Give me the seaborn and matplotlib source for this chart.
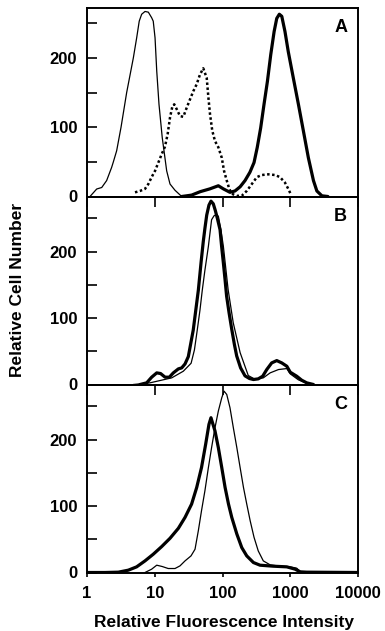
import matplotlib
matplotlib.use("Agg")
import matplotlib.pyplot as plt
import seaborn as sns

# Panel A: control (thin), dotted, stained (thick)
a_ctrl_x = [1.107, 1.39, 1.65, 1.95, 2.31, 2.45, 2.74, 3.18, 3.85, 4.83, 5.41, 5.9, 6.41, 7.18,
            8.04, 9.0, 9.5, 10.1, 10.7, 11.55, 12.9, 15.0, 16.8, 19.9, 25]
a_ctrl_y = [0, 10.8, 13, 23, 42, 50, 66, 100, 150, 200, 229, 253, 263, 267,
            266, 258, 253, 229, 181, 133, 85, 37, 18, 9, 0]

a_dot_x = [5.11, 6.06, 7.18, 8.04, 9.0, 10.1, 11.3, 12.65, 14.16, 15.5, 16.8, 18.2, 19.4, 21.1,
           23.6, 26.4, 29.6, 33.1, 37.1, 41.6, 46.5, 52, 58.5, 61.9, 65.4, 70.6, 77.5, 86.8,
           97.5, 105.4, 115.5, 126, 137, 162, 192, 228, 271, 322, 381, 475, 595, 705, 836,
           935, 1010]
a_dot_y = [6, 8, 11, 18, 28, 37, 49, 61, 72, 90, 114, 130, 133, 126,
           116, 115, 128, 140, 152, 162, 176, 185, 171, 143, 119, 95, 80, 71,
           56, 37, 23, 11, 4, 1, 1, 8, 18, 28, 31, 32, 31, 28, 20,
           11, 4]

a_stain_x = [25, 35, 47, 65, 86.8, 103, 129, 153, 182, 215, 254, 292, 326, 366, 410, 460, 516,
             578, 632, 690, 750, 836, 935, 1110, 1320, 1560, 1850, 2200, 2470, 2930, 3600]
a_stain_y = [0, 2, 7, 11, 15.5, 11, 6, 8, 14, 23, 35, 49, 71, 99, 133, 166, 205,
             238, 257, 263, 260, 238, 209, 171, 133, 95, 56, 23, 8, 1, 0]

# Panel B
b_thick_x = [6.06, 7.6, 9.0, 10.7, 12.2, 14.2, 16.4, 18.8, 22.3, 25, 28, 31.3, 37,
             44, 48.4, 52, 55, 58.5, 63.1, 67.6, 73.1, 78.3, 84, 92, 97, 103, 109, 115,
             125, 137, 150, 162, 185, 215, 250, 286, 337, 392, 450, 532, 632, 750, 890, 1000,
             1245, 1475, 1750, 2200]
b_thick_y = [0, 2.5, 11, 17.5, 16.5, 11, 11, 17.5, 23.5, 25, 31, 42, 82,
             142, 185, 215, 235, 255, 270, 276, 272, 262, 250, 233, 208, 183, 158, 133,
             108, 83, 60, 43, 25, 13, 9, 7.5, 8.5, 12.5, 22.5, 32.5, 36, 32.5, 27.5, 18.5,
             12.5, 6.5, 2.5, 0]

b_thin_x = [4.8, 8.5, 12, 17.8, 26.4, 34.4, 38.5, 42.4, 46.5, 50.3, 55, 61.9, 69, 75, 82, 87,
            95, 103, 121, 144, 182, 240, 300, 400, 505, 670, 890, 1000, 1320, 1750, 2000]
b_thin_y = [0, 2.5, 6, 10, 20, 32, 52, 82, 112, 142, 172, 208, 248, 254, 256, 253,
            232, 208, 143, 93, 48, 13.5, 8, 10, 17.5, 22.5, 24, 16, 7, 2, 0]

# Panel C
c_thick_x = [1, 1.84, 2.9, 4.07, 5.4, 7.18, 9.5, 12.65, 16.8, 22.3, 28, 35, 41.6, 49, 56.4,
             63.1, 67.6, 77.5, 86.8, 97.5, 109.2, 122.6, 137, 162.7, 192.5, 228, 286, 358,
             560, 890, 1180, 1400, 1750, 10000]
c_thick_y = [0, 0, 0.5, 3.5, 8.5, 17.5, 27.5, 39, 51.5, 66.5, 83, 103, 128, 158, 193,
             223, 233, 213, 188, 158, 128, 103, 83, 58, 37.5, 25, 15, 11,
             9.5, 8.5, 5, 1, 0.5, 0]

c_thin_x = [7.18, 9.0, 10.7, 12.9, 15.8, 19.9, 23.6, 28, 34.3, 39.3, 44, 49, 55, 61.9, 69,
            77.5, 86.8, 97.5, 105.4, 115.5, 129, 144.5, 162.7, 182, 204, 228, 256, 292, 337,
            400, 505, 705, 1000, 1245, 1400, 1500]
c_thin_y = [0, 5, 11, 9, 6, 6, 10, 17.5, 25, 35, 63, 93, 123, 158, 188,
            218, 243, 263, 273, 268, 248, 218, 188, 158, 128, 103, 78, 53, 32.5,
            17.5, 11.5, 9.5, 8.5, 6.5, 1.5, 0]

x_ticks = [1, 10, 100, 1000, 10000]
x_labels = ["1", "10", "100", "1000", "10000"]
y_major = [0, 100, 200]
y_minor = [50, 150, 250]

sns.set_theme(style="ticks")
plt.rcParams["font.family"] = ["Liberation Sans", "DejaVu Sans"]
plt.rcParams["font.weight"] = "bold"
plt.rcParams["text.color"] = "black"
plt.rcParams["axes.labelcolor"] = "black"

fig = plt.figure(figsize=(3.85, 6.31), dpi=100)
W, H = 385, 631
left, right = 87, 358
rows = [(8, 196.5, 272), (196.5, 384.5, 283), (384.5, 572.5, 283)]
axes = []
for top, bot, ymax in rows:
    ax = fig.add_axes([left / W, 1 - bot / H, (right - left) / W, (bot - top) / H])
    ax.set_facecolor("none")
    ax.set_xscale("log")
    ax.set_xlim(1, 10000)
    ax.set_ylim(0, ymax)
    axes.append(ax)

ax_a, ax_b, ax_c = axes

thin = 0.9
thick = 2.3
line_kw = dict(color="black", solid_joinstyle="round", solid_capstyle="round")
sns.lineplot(x=a_ctrl_x, y=a_ctrl_y, ax=ax_a, lw=thin, **line_kw)
sns.lineplot(x=a_dot_x, y=a_dot_y, ax=ax_a, color="black", lw=1.8, linestyle=(0, (1, 1)))
sns.lineplot(x=a_stain_x, y=a_stain_y, ax=ax_a, lw=thick, **line_kw)

sns.lineplot(x=b_thin_x, y=b_thin_y, ax=ax_b, lw=thin, **line_kw)
sns.lineplot(x=b_thick_x, y=b_thick_y, ax=ax_b, lw=thick, **line_kw)

sns.lineplot(x=c_thin_x, y=c_thin_y, ax=ax_c, lw=thin, **line_kw)
sns.lineplot(x=c_thick_x, y=c_thick_y, ax=ax_c, lw=thick, **line_kw)

for ax, letter in zip(axes, ["A", "B", "C"]):
    for s in ax.spines.values():
        s.set_linewidth(1.4)
        s.set_color("black")
    ax.set_yticks(y_major)
    ax.set_yticks(y_minor, minor=True)
    ax.set_yticklabels([str(v) for v in y_major], fontsize=12, fontweight="bold")
    ax.tick_params(axis="y", which="both", direction="in", length=7, width=1.2, pad=7,
                   colors="black")
    ax.set_xticks(x_ticks)
    ax.xaxis.set_minor_locator(matplotlib.ticker.NullLocator())
    ax.tick_params(axis="x", which="major", direction="out", length=7, width=1.2, colors="black")
    ax.set_xlabel("")
    ax.set_ylabel("")
    ax.text(0.96, 0.94, letter, transform=ax.transAxes, ha="right", va="top",
            fontsize=13, fontweight="bold", color="black")

for ax in [ax_a, ax_b]:
    ax.set_xticklabels([])
ax_c.set_xticklabels(x_labels, fontsize=12, fontweight="bold")
ax_c.tick_params(axis="x", which="major", length=3, pad=7)

fig.text(18 / W, 1 - 290 / H, "Relative Cell Number", rotation=90, ha="center", va="center",
         fontsize=12.5, fontweight="bold")
fig.text(224 / W, 1 - 622 / H, "Relative Fluorescence Intensity", ha="center", va="center",
         fontsize=12.5, fontweight="bold")

fig.savefig("out.png", dpi=100, facecolor="white")
